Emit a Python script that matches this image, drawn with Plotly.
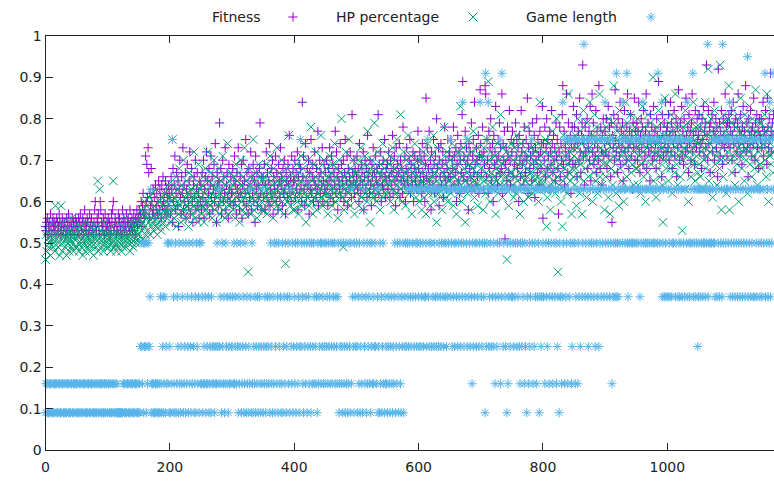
import plotly.graph_objects as go

# ---------------- data (values in hundredths, one chunk = 50 generations) ----------------
fitness_chunks = [
    "54 53 55 56 52 54 55 53 57 54 52 55 56 54 53 55 54 52 56 55 53 54 57 55 53 52 54 56 55 53 54 55 52 53 56 54 55 57 53 54 52 55 54 56 53 55 54 52 56 54",
    "55 53 54 56 52 55 57 54 53 55 56 52 54 58 55 53 54 56 55 52 53 57 54 55 56 53 54 52 55 58 60 54 53 56 55 57 54 52 60 58 55 53 54 56 55 52 57 54 53 55",
    "54 56 53 55 52 54 57 55 58 60 53 54 56 55 52 54 53 57 55 56 54 53 52 55 58 54 56 53 55 54 57 52 55 56 54 53 58 55 54 56 53 55 57 54 52 56 55 58 54 56",
    "56 58 55 57 60 54 59 62 57 56 58 71 60 69 61 73 67 56 62 59 68 60 57 63 58 61 56 64 59 62 57 60 65 58 63 61 56 64 59 66 60 62 58 65 57 63 61 59 64 62",
    "61 57 66 63 55 68 60 64 71 58 62 67 59 65 54 63 70 61 57 66 62 73 58 64 60 67 56 63 69 61 59 65 72 57 62 68 60 55 64 66 61 70 58 63 67 59 62 56 65 60",
    "64 58 67 61 70 56 63 66 60 72 59 65 62 68 57 64 71 61 66 58 63 69 60 74 62 55 67 64 59 65 79 61 68 57 63 70 60 66 62 73 58 64 67 61 56 69 63 60 66 62",
    "62 68 59 65 71 60 64 57 67 63 73 61 58 66 62 69 56 64 70 60 65 62 75 59 67 63 57 68 61 64 72 58 66 62 69 60 65 55 71 63 67 59 64 61 68 79 62 66 58 64",
    "66 61 69 58 64 72 62 67 60 65 74 59 63 68 61 70 57 66 64 62 71 60 67 63 58 69 65 61 73 64 66 59 68 62 70 63 57 67 65 61 69 64 76 62 66 60 71 63 68 65",
    "65 70 61 67 63 72 58 66 69 62 68 64 60 84 66 71 63 59 74 65 61 68 64 70 57 67 63 75 62 66 69 60 65 72 64 61 68 63 77 59 66 70 62 67 64 73 60 65 69 63",
    "67 62 70 64 59 68 65 73 61 66 71 63 69 60 67 64 77 62 72 66 58 68 65 63 74 61 69 66 64 70 60 67 75 62 65 71 59 68 63 66 72 64 61 81 67 65 70 62 68 64",
    "66 71 63 68 60 74 65 62 69 67 64 72 58 66 70 63 68 61 76 65 67 62 70 64 59 69 66 73 63 67 61 71 65 68 64 81 62 69 66 72 60 67 64 70 63 75 66 61 68 65",
    "69 63 72 66 61 70 67 64 76 62 68 71 65 59 73 66 69 63 67 74 61 70 65 68 62 78 66 64 71 60 68 73 65 67 63 70 75 62 69 66 64 72 60 68 71 65 67 63 70 77",
    "68 64 72 66 70 62 74 67 65 71 60 69 85 66 73 63 68 77 65 70 58 72 67 64 75 69 62 71 66 80 68 63 73 59 70 66 74 64 69 72 61 67 78 65 70 63 68 75 66 71",
    "72 66 75 63 70 68 78 64 71 67 73 60 69 76 65 72 62 70 74 67 81 89 66 71 63 77 69 73 65 70 58 74 68 72 66 79 63 71 75 67 84 69 64 73 70 66 76 62 71 87",
    "74 67 71 78 63 72 69 88 86 66 75 70 62 77 68 73 80 65 71 74 60 76 69 72 83 66 70 64 75 71 79 67 73 68 86 62 74 70 77 51 69 73 65 78 71 67 82 70 64 75",
    "72 77 66 74 69 63 79 71 75 68 73 60 76 70 66 82 72 69 74 64 78 71 67 75 70 85 62 73 77 68 71 74 65 79 72 69 76 61 73 70 80 67 75 71 64 77 72 68 74 83",
    "56 74 70 78 66 73 80 68 75 71 63 77 72 69 82 74 67 76 70 73 65 79 71 75 68 57 72 78 66 74 70 81 88 69 77 64 73 71 86 75 67 79 72 70 76 62 74 78 69 83",
    "73 78 69 75 81 66 74 77 70 85 72 67 76 79 93 71 74 64 78 72 75 80 68 73 77 70 83 65 76 86 72 79 69 74 71 82 67 77 73 70 88 75 68 78 72 64 76 80 71 74",
    "77 72 80 68 75 83 71 78 74 66 79 55 76 73 81 70 87 75 72 78 67 80 74 71 84 69 77 73 79 65 76 82 72 75 70 78 86 73 68 77 74 81 71 76 63 79 73 85 70 77",
    "74 79 70 77 84 72 67 76 80 73 78 69 82 75 71 77 86 68 74 79 72 76 65 81 73 78 70 75 83 71 77 74 68 80 76 72 89 75 70 78 73 66 81 76 71 79 74 84 72 77",
    "78 73 81 70 76 84 72 79 68 77 74 82 71 76 80 66 78 73 87 75 70 79 74 83 71 77 69 80 75 72 85 76 73 78 67 81 74 77 70 79 86 72 76 74 69 82 77 73 80 75",
    "76 81 72 78 74 68 80 75 83 71 77 79 73 93 76 70 82 74 78 67 79 75 81 72 77 84 70 76 80 73 78 66 92 75 79 71 77 82 74 69 80 76 73 86 75 78 71 79 74 81",
    "79 73 77 82 70 76 84 74 78 67 80 75 72 79 86 74 77 71 81 76 69 78 83 73 77 75 88 72 79 74 66 80 76 73 82 77 71 78 74 85 76 70 79 75 81 73 77 68 80 76",
    "75 80 73 78 84 71 77 74 82 76 69 85 78 73 80 75 91 77 72 79 76 81",
]

hp_percentage_chunks = [
    "46 52 48 53 51 49 54 50 47 52 55 51 49 53 50 48 59 52 51 54 49 50 53 47 52 59 51 48 55 50 52 49 53 51 47 54 50 52 48 51 53 49 56 50 52 48 51 54 49 52",
    "51 49 53 50 48 52 54 50 49 51 47 53 50 52 48 55 51 49 53 50 52 48 51 54 49 50 52 47 53 51 50 49 54 52 65 48 51 63 50 53 49 52 51 48 55 50 53 49 52 51",
    "50 52 49 53 51 48 54 50 52 65 49 51 53 50 48 52 55 49 51 53 50 52 48 54 51 49 53 50 52 56 49 51 53 50 54 52 48 51 55 50 53 49 52 54 51 50 53 55 52 51",
    "52 56 50 54 58 53 55 51 57 60 54 52 56 59 53 57 55 61 52 58 54 56 62 55 53 59 57 54 63 56 52 58 55 60 54 57 53 61 56 59 55 62 58 54 57 60 56 64 58 61",
    "57 62 55 60 75 58 64 56 61 59 66 54 60 63 57 68 59 62 55 64 60 57 70 58 63 61 56 65 59 62 54 67 60 58 63 61 57 66 59 72 56 61 64 58 62 55 69 60 63 59",
    "61 57 64 59 66 55 62 68 58 63 60 72 57 65 61 59 67 62 56 64 60 70 58 63 66 55 61 64 59 68 62 57 65 60 63 71 58 61 66 56 64 60 62 74 57 65 59 63 67 60",
    "60 64 58 66 62 56 69 61 65 59 63 67 55 62 70 60 64 58 66 61 73 57 63 65 59 62 43 68 60 64 57 66 61 63 75 58 65 60 62 67 56 64 61 69 59 63 66 60 58 65",
    "62 58 66 61 64 69 57 63 60 67 62 71 59 65 61 64 56 68 62 60 66 63 73 59 65 61 67 58 64 62 70 60 66 63 57 65 45 62 68 60 64 76 61 66 59 63 67 62 58 65",
    "63 58 66 61 69 60 64 57 67 62 65 71 59 63 68 60 74 62 66 55 64 61 70 63 59 67 62 78 60 65 57 69 63 61 66 72 58 64 62 68 60 65 63 76 61 67 59 64 70 62",
    "65 60 68 62 57 66 64 71 61 67 63 59 69 65 62 74 60 66 64 68 56 63 70 62 67 65 80 61 64 49 58 66 63 72 60 67 65 62 75 64 59 68 63 66 61 70 64 57 67 65",
    "62 67 64 70 59 66 63 73 61 68 65 58 69 64 71 62 66 60 77 63 67 65 55 68 62 70 64 66 61 79 63 68 60 65 72 62 67 64 58 69 66 63 74 61 65 68 62 70 64 66",
    "66 62 69 64 71 60 67 65 73 63 58 68 66 70 62 75 64 67 61 69 65 81 63 68 60 66 72 64 67 59 70 65 63 76 66 62 68 64 71 57 67 65 69 63 74 66 61 68 70 64",
    "66 60 64 70 63 58 67 65 72 61 64 69 57 66 63 74 62 68 65 59 71 64 66 62 76 60 67 63 69 55 65 73 62 68 64 61 70 66 58 67 63 78 64 69 61 66 72 60 65 68",
    "65 70 62 67 74 63 59 68 66 71 64 57 69 65 72 62 67 83 64 60 70 66 73 63 68 55 65 71 67 62 75 64 69 58 66 72 63 68 77 65 61 70 64 67 73 59 66 69 64 71",
    "68 63 71 66 58 73 65 69 62 67 75 64 89 70 66 60 72 67 64 78 63 69 66 71 57 68 65 74 62 70 67 64 81 66 69 61 73 67 64 70 66 72 46 68 65 59 71 67 63 74",
    "67 64 70 61 73 66 68 62 76 65 69 63 71 57 67 74 64 69 66 60 72 65 70 63 78 66 68 61 71 64 67 73 62 69 66 63 70 65 72 63 68 66 74 60 69 84 65 71 67 64",
    "69 65 72 63 75 67 54 61 68 74 66 71 58 69 64 77 67 72 65 70 62 68 80 66 43 71 64 69 73 60 67 54 65 76 68 63 71 66 74 62 69 86 67 72 65 70 57 68 73 66",
    "71 64 76 68 59 73 80 66 70 62 77 69 74 57 72 82 65 71 68 75 61 79 70 66 73 84 63 72 69 76 60 74 67 81 70 65 78 71 62 75 68 86 66 73 70 64 77 69 72 58",
    "72 66 78 69 74 61 80 70 57 76 68 73 64 79 88 71 67 75 62 77 70 73 59 82 68 74 71 65 78 72 60 76 69 84 73 66 79 70 63 75 71 81 67 74 69 77 64 72 78 68",
    "73 68 80 64 75 71 77 62 74 69 83 72 66 78 70 60 76 73 67 81 71 74 63 79 69 75 72 90 65 77 70 74 61 78 72 68 82 71 75 66 79 73 64 55 76 70 85 72 68 74",
    "70 76 65 79 72 68 81 74 62 77 71 75 67 86 73 69 78 64 74 71 80 66 76 72 53 78 70 73 63 82 71 75 68 79 60 74 72 77 66 80 70 73 84 69 75 65 78 71 74 67",
    "74 69 78 66 81 72 75 63 77 70 73 84 68 76 71 79 92 65 74 72 80 67 77 61 75 73 82 69 76 71 64 78 72 75 68 93 70 58 79 73 66 81 74 70 77 62 76 72 80 88",
    "58 76 70 79 67 74 82 71 75 64 78 72 69 80 73 60 77 71 85 74 68 76 72 79 65 81 73 70 77 62 75 72 83 69 78 74 66 80 71 76 68 73 87 70 77 64 75 72 79 69",
    "73 79 68 76 63 74 81 70 77 66 86 72 75 60 78 71 74 69 82 72 67 76",
]

# game length takes discrete values; one code character per generation
game_length_levels = {
    "0": 0.09, "1": 0.16, "2": 0.25, "3": 0.37, "4": 0.50, "5": 0.63,
    "6": 0.75, "7": 0.84, "8": 0.91, "9": 0.98, "a": 0.95,
}
game_length_chunks = [
    "0110100110 1001011010 0110010110 1001011010 0110010110",
    "1010011001 0110100101 1001101001 0101100110 1010010110",
    "0110100101 1001010000 0000011010 0110100110 1001011001",
    "0102421402 4204124235 0110100101 1001031023 0130214140",
    "2041603104 0132041021 3401204132 0412031420 1304213041",
    "4130121301 2130120312 1201214251 2310421301 4213021312",
    "2314132142 0312401230 1420310215 3041021302 1302310215",
    "0213021321 3042103140 2413042130 1402314023 4130521402",
    "3140241302 6243104213 4023142041 2413213041 3241423142",
    "1423142314 2143241321 3401241204 1204120142 0415320432",
    "4203140213 0542130412 3140241312 4215302041 3024103121",
    "0231023102 1340214302 4103240324 2543245325 4352534245",
    "3254235423 5342653425 4253524352 3524532453 2453423545",
    "5634253425 4352435254 3742535462 5342531425 3452435247",
    "5324534082 4572354253 2451352435 4613852453 2504135243",
    "5342534524 3521452435 1425035142 3564152435 1354035235",
    "4351543254 1354531543 5412350435 1374615346 1563461246",
    "5413651436 2563459634 6532465346 5436254635 2645364536",
    "7453645364 5163453483 4356456547 6545684364 5645465456",
    "4654563546 5746545645 6456546546 4565486456 5734536435",
    "6354365346 4563456354 3645364536 5473643456 4835435452",
    "3453545345 4354593454 5465464356 3645364539 4656456546",
    "7354635463 5463546354 635463546a 3546354635 3564356453",
    "5436546836 4536473546 85",
]

series_names = ["Fitness", "HP percentage", "Game length"]
x_tick_values = [0, 200, 400, 600, 800, 1000]
y_tick_values = [0, 0.1, 0.2, 0.3, 0.4, 0.5, 0.6, 0.7, 0.8, 0.9, 1]
y_tick_labels = ["0", "0.1", "0.2", "0.3", "0.4", "0.5", "0.6", "0.7", "0.8", "0.9", "1"]

fitness = [int(v) / 100 for c in fitness_chunks for v in c.split()]
hp_percentage = [int(v) / 100 for c in hp_percentage_chunks for v in c.split()]
game_length = [game_length_levels[ch] for c in game_length_chunks for ch in c.replace(" ", "")]

# ---------------- style / layout ----------------
W, H = 774, 482
LEFT, TOP, BOTTOM = 45.5, 36, 450
FONT = dict(family="DejaVu Sans", size=14, color="#222222")
colors = ["#9400D3", "#009E73", "#56B4E9"]
symbols = ["cross-thin", "x-thin", "asterisk"]
sizes = [6.6, 8.5, 7.6]

fig = go.Figure()
for name, ys, col, sym, sz in zip(series_names, [fitness, hp_percentage, game_length], colors, symbols, sizes):
    fig.add_trace(go.Scatter(
        x=list(range(len(ys))), y=ys, mode="markers", name=name, showlegend=False,
        cliponaxis=False, hoverinfo="skip",
        marker=dict(symbol=sym, size=sz, color=col, line=dict(width=1, color=col)),
        xaxis="x", yaxis="y",
    ))

# gnuplot-style key: text then sample, drawn in a pixel-space overlay
legend_text_right = [263, 441, 619]
legend_marker_x = [293, 473, 651]
legend_y = 17
for name, tr, mx, col, sym, sz in zip(series_names, legend_text_right, legend_marker_x, colors, symbols, sizes):
    fig.add_trace(go.Scatter(
        x=[mx], y=[legend_y], mode="markers", showlegend=False, cliponaxis=False, hoverinfo="skip",
        marker=dict(symbol=sym, size=sz, color=col, line=dict(width=1, color=col)),
        xaxis="x2", yaxis="y2",
    ))
    fig.add_annotation(x=tr / W, y=1 - legend_y / H, xref="paper", yref="paper",
                       xanchor="right", yanchor="middle", text=name, showarrow=False, font=FONT)

axis_common = dict(ticks="inside", ticklen=7, tickwidth=1, tickcolor="#222222",
                   showline=True, linecolor="#222222", linewidth=1, automargin=False,
                   showgrid=False, zeroline=False, tickfont=FONT)

fig.update_layout(
    template="none",
    width=W, height=H,
    margin=dict(l=0, r=0, t=0, b=0, pad=0, autoexpand=False),
    paper_bgcolor="white", plot_bgcolor="rgba(0,0,0,0)",
    showlegend=False, hovermode=False,
    xaxis=dict(domain=[LEFT / W, 1], range=[0, 1171.6], tickvals=x_tick_values,
               mirror="ticks", anchor="y", ticklabelstandoff=4, **axis_common),
    yaxis=dict(domain=[(H - BOTTOM) / H, (H - TOP) / H], range=[0, 1],
               tickvals=y_tick_values, ticktext=y_tick_labels, mirror=False, anchor="x",
               **axis_common),
    xaxis2=dict(domain=[0, 1], range=[0, W], visible=False, anchor="y2", fixedrange=True, automargin=False),
    yaxis2=dict(domain=[0, 1], range=[H, 0], visible=False, anchor="x2", fixedrange=True, automargin=False),
)

fig.write_html(
    "out.html",
    config={"displayModeBar": False},
    post_script="document.body.style.margin='0px'; document.body.style.overflow='hidden';",
)
